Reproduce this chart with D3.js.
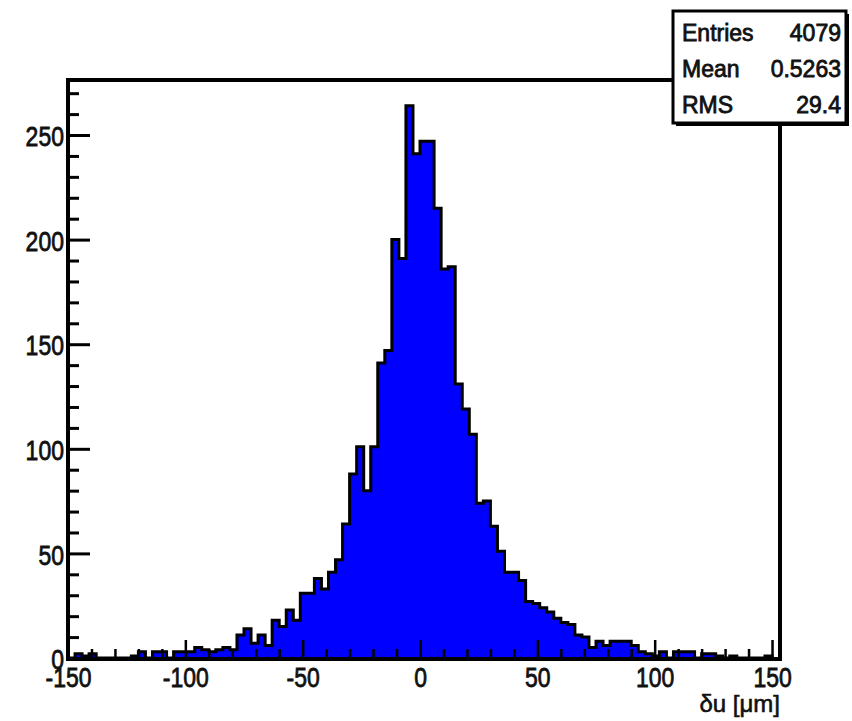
<!DOCTYPE html>
<html>
<head>
<meta charset="utf-8">
<script src="https://cdn.jsdelivr.net/npm/d3@7"></script>
<style>
  body { margin: 0; background: #fff; }
  svg { display: block; }
  text { font-family: "Liberation Sans", Arial, Helvetica, sans-serif; fill: #111; }
</style>
</head>
<body>
<svg id="chart" width="852" height="721"></svg>
<script>
// du residual histogram, 100 bins of 3 um starting at -150
var binLow = -150;
var binWidth = 3;
var counts = [
    0, 2, 1, 2, 0, 0, 0, 0, 0, 1,
    3, 0, 3, 3, 0, 3, 3, 3, 5, 4,
    3, 4, 5, 4, 11, 14, 7, 11, 6, 18,
    15, 23, 18, 31, 31, 38, 33, 41, 47, 64,
    88, 101, 80, 101, 141, 147, 200, 191, 264, 241,
    247, 247, 215, 186, 187, 131, 119, 107, 74, 75,
    63, 51, 41, 41, 37, 27, 26, 24, 22, 19,
    17, 16, 11, 10, 5, 8, 6, 8, 8, 8,
    6, 3, 2, 1, 3, 0, 3, 3, 3, 0,
    2, 2, 1, 0, 1, 0, 0, 0, 0, 1
];

var xDomain = [-150, 153.4];
var yDomain = [0, 276.3];
var xMajor = [-150, -100, -50, 0, 50, 100, 150];
var xMinor = [-140, -130, -120, -110, -90, -80, -70, -60, -40, -30, -20, -10,
              10, 20, 30, 40, 60, 70, 80, 90, 110, 120, 130, 140];
var yMajor = [0, 50, 100, 150, 200, 250];
var yMinor = [10, 20, 30, 40, 60, 70, 80, 90, 110, 120, 130, 140,
              160, 170, 180, 190, 210, 220, 230, 240, 260, 270];
var statLabels = ["Entries", "Mean", "RMS"];
var statValues = ["4079", "0.5263", "29.4"];
var xTitle = "δu [μm]";

var svg = d3.select("#chart");

var x = d3.scaleLinear().domain(xDomain).range([68, 780]);
var y = d3.scaleLinear().domain(yDomain).range([658, 80]);

// plain hyphen for negatives, like the original plot
var plainFmt = function (d) { return String(d); };

// step points: start at baseline, one per bin, close back down at the end
var nb = counts.length;
var pts = [[binLow, 0]];
counts.forEach(function (c, i) {
    pts.push([binLow + i * binWidth, c]);
});
pts.push([binLow + nb * binWidth, counts[nb - 1]]);
pts.push([binLow + nb * binWidth, 0]);

var area = d3.area()
    .curve(d3.curveStepAfter)
    .x(function (d) { return x(d[0]); })
    .y0(y(0))
    .y1(function (d) { return y(d[1]); });

var line = d3.line()
    .curve(d3.curveStepAfter)
    .x(function (d) { return x(d[0]); })
    .y(function (d) { return y(d[1]); });

svg.append("path")
    .datum(pts)
    .attr("d", area)
    .attr("fill", "#0000ff");

svg.append("path")
    .datum(pts)
    .attr("d", line)
    .attr("fill", "none")
    .attr("stroke", "#000")
    .attr("stroke-width", 3);

//y axis, ticks pointing into the frame
var gy = svg.append("g")
    .attr("transform", "translate(68,0)")
    .call(d3.axisLeft(y).tickValues(yMajor).tickSize(-22).tickPadding(5).tickFormat(plainFmt));
gy.select(".domain").remove();
gy.selectAll("line").attr("stroke", "#000").attr("stroke-width", 3);
gy.selectAll("text")
    .attr("font-size", 28)
    .attr("dy", "0.38em")
    .attr("stroke", "#111")
    .attr("stroke-width", 0.8)
    .attr("transform", "scale(0.82,1)");

var gy2 = svg.append("g")
    .attr("transform", "translate(68,0)")
    .call(d3.axisLeft(y).tickValues(yMinor).tickSize(-11).tickFormat(""));
gy2.select(".domain").remove();
gy2.selectAll("line").attr("stroke", "#000").attr("stroke-width", 3);

//x axis
var gx = svg.append("g")
    .attr("transform", "translate(0,658)")
    .call(d3.axisBottom(x).tickValues(xMajor).tickSize(-18).tickPadding(9).tickFormat(plainFmt));
gx.select(".domain").remove();
gx.selectAll("line").attr("stroke", "#000").attr("stroke-width", 2.5);
gx.selectAll("text")
    .attr("font-size", 28)
    .attr("stroke", "#111")
    .attr("stroke-width", 0.8)
    .attr("transform", "scale(0.82,1)");

var gx2 = svg.append("g")
    .attr("transform", "translate(0,658)")
    .call(d3.axisBottom(x).tickValues(xMinor).tickSize(-9).tickFormat(""));
gx2.select(".domain").remove();
gx2.selectAll("line").attr("stroke", "#000").attr("stroke-width", 2.5);

// frame
svg.append("rect")
    .attr("x", 68)
    .attr("y", 80)
    .attr("width", 712)
    .attr("height", 579)
    .attr("fill", "none")
    .attr("stroke", "#000")
    .attr("stroke-width", 4);

svg.append("text")
    .attr("x", 780)
    .attr("y", 712)
    .attr("text-anchor", "end")
    .attr("font-size", 24)
    .attr("stroke", "#111")
    .attr("stroke-width", 0.6)
    .text(xTitle);

// stats box with shadow
svg.append("rect")
    .attr("x", 676).attr("y", 14)
    .attr("width", 173).attr("height", 112)
    .attr("fill", "#000");
svg.append("rect")
    .attr("x", 673).attr("y", 11)
    .attr("width", 173).attr("height", 112)
    .attr("fill", "#fff")
    .attr("stroke", "#000")
    .attr("stroke-width", 3);

var rows = svg.append("g").selectAll("g")
    .data(statLabels)
    .enter()
    .append("g")
    .attr("transform", function (d, i) { return "translate(0," + (41 + i * 36) + ")"; });

rows.append("text")
    .attr("x", 682)
    .attr("font-size", 23)
    .attr("stroke", "#111")
    .attr("stroke-width", 0.8)
    .text(function (d) { return d; });

rows.append("text")
    .attr("x", 841)
    .attr("text-anchor", "end")
    .attr("font-size", 23)
    .attr("stroke", "#111")
    .attr("stroke-width", 0.8)
    .text(function (d, i) { return statValues[i]; });
</script>
</body>
</html>
